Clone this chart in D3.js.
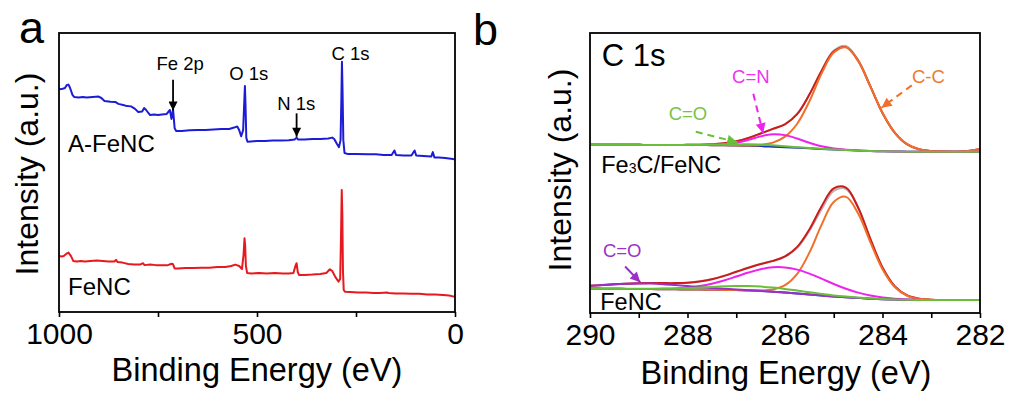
<!DOCTYPE html>
<html>
<head>
<meta charset="utf-8">
<script src="https://cdn.jsdelivr.net/npm/d3@7"></script>
<style>
  html, body { margin: 0; padding: 0; background: #fff; }
  svg { display: block; font-family: "Liberation Sans", Arial, sans-serif; }
</style>
</head>
<body>
<svg id="chart" width="1011" height="394"></svg>
<script>
// ---------- (a) XPS survey spectra ----------
const afencEnergy = [1000,993,985,980,976,972,966,962,950,940,930,915,900,893,885,870,858,850,838,828,818,808,800,790,785,780,770,760,750,740,728,720,716,712,708,704,690,670,650,630,610,590,570,558,550,545,540,535,532,530.5,529,527,524,515,500,480,460,440,420,405,400,396,380,360,340,320,310,305,298,293,289,287,285.5,284,282,279,270,250,220,200,180,160,153,149,130,110,102,98,80,60,56,52,40,25,15,5,0];
const afencIntensity = [79.8,79.9,80.3,81.4,81.5,80.3,77.8,77.1,76.9,77.1,76.9,77.1,77.2,76.7,75.6,75.4,75.3,74.6,74.2,73.8,73.7,72.8,71.7,71.9,73.1,72.4,70.6,70.8,70.6,70.8,71.0,72.4,69.2,72.6,65.9,64.9,64.9,65.1,65.2,65.2,65.4,65.6,65.6,66.1,66.5,65.2,63.0,65.2,76.0,81.0,74.2,62.4,61.0,61.1,61.3,61.3,61.5,61.5,61.6,61.8,62.5,61.8,61.8,62.0,62.0,62.2,62.5,62.0,60.2,59.1,61.6,76.0,89.7,79.6,61.6,57.0,56.6,56.6,56.5,56.5,56.3,56.3,57.9,56.3,56.1,56.1,57.9,56.1,55.9,55.7,57.3,55.4,55.4,55.2,55.0,54.8,54.7];

const fencEnergy = [1000,994,988,982,976,970,964,955,945,935,920,905,890,875,860,856,852,840,825,810,795,788,784,770,755,740,725,716,712,708,700,680,660,640,620,600,580,565,555,545,538,534,531.5,530,528,525,515,495,475,455,435,420,408,403,400,397,394,380,360,340,325,316,310,302,294,290,288,286,284.5,283,281,278,265,245,225,205,190,172,168,150,130,110,90,70,50,30,15,5,0];
const fencIntensity = [20.1,19.9,20.1,20.8,21.3,20.1,18.3,18.1,18.3,18.1,18.3,18.5,18.3,18.1,18.1,18.7,17.9,17.7,17.2,17.0,17.0,17.5,16.8,17.0,16.8,16.8,16.8,17.3,17.1,15.6,15.6,15.8,15.8,15.9,15.9,16.1,16.1,16.5,17.0,16.5,15.4,20.4,26.4,24.0,16.5,14.0,13.8,14.0,13.8,14.0,13.8,13.8,14.0,16.5,17.5,14.3,13.3,13.3,13.4,13.6,14.0,15.3,14.7,12.5,10.9,11.8,25.8,43.7,34.8,15.1,7.9,7.3,7.2,7.0,7.0,6.8,6.8,7.0,6.8,6.6,6.6,6.5,6.5,6.3,6.3,6.1,5.9,5.6,5.4];

const surveyTicks = [1000, 750, 500, 250, 0];
const surveyTickLabels = ["1000", "", "500", "", "0"];

// peak labels: [text, energy, intensity of baseline]
const surveyPeakLabels = [["Fe 2p", 694, 86.7], ["O 1s", 521, 83.2], ["N 1s", 401, 72.4], ["C 1s", 264, 90.3]];
// arrows: [energy, start intensity, tip intensity]
const surveyArrows = [[712, 83.2, 72.2], [400, 71.2, 62.8]];

// ---------- (b) high-resolution C 1s ----------
const c1sEnergy = [290,289.75,289.5,289.25,289,288.75,288.5,288.25,288,287.75,287.5,287.25,287,286.75,286.5,286.25,286,285.75,285.5,285.25,285,284.75,284.5,284.25,284,283.75,283.5,283.25,283,282.75,282.5,282.25,282];

// Fe3C/FeNC
const topRaw        = [60.15,60.05,60.12,60.02,60.08,59.98,60.04,59.97,60.06,60.12,60.3,60.6,61.3,62.5,64.1,65.7,67.5,71.2,78.0,86.6,93.7,95.4,90.4,81.1,71.4,64.4,60.3,58.5,57.8,57.7,57.6,57.9,58.6];
const topEnvelope   = [60.1,60.1,60.1,60.05,60.05,60.0,60.0,60.0,60.05,60.1,60.27,60.62,61.33,62.52,64.10,65.76,67.4,71.0,78.0,86.47,93.34,94.95,90.07,80.95,71.45,64.45,60.33,58.51,57.85,57.66,57.6,57.9,58.6];
const topCC         = [60.1,60.1,60.1,60.05,60.05,60.0,60.0,60.0,60.0,60.0,59.95,59.9,59.82,59.8,60.03,60.85,63.0,67.6,75.6,85.5,93.0,94.86,90.05,80.95,71.45,64.45,60.33,58.51,57.85,57.66,57.6,57.9,58.6];
const topCN         = [60.1,60.1,60.1,60.05,60.05,60.0,60.0,60.0,60.0,60.0,60.07,60.29,60.83,61.84,63.08,63.8,63.53,62.32,60.79,59.52,58.74,58.29,58.02,57.85,57.75,57.7,57.6,57.6,57.6,57.6,57.6,57.6,57.6];
const topCO         = [60.1,60.1,60.1,60.05,60.05,60.0,60.0,60.0,60.05,60.1,60.15,60.23,60.28,60.28,60.19,59.91,59.56,59.22,58.91,58.65,58.4,58.2,58.0,57.85,57.75,57.7,57.6,57.6,57.6,57.6,57.6,57.6,57.6];
const topBackground = [60.1,60.1,60.1,60.05,60.05,60.0,60.0,60.0,60.0,60.0,59.95,59.9,59.8,59.7,59.6,59.4,59.2,59.0,58.8,58.6,58.4,58.2,58.0,57.85,57.75,57.7,57.6,57.6,57.6,57.6,57.6,57.6,57.6];

// FeNC
const botRaw        = [9.72,9.95,10.28,10.47,10.66,10.7,10.66,10.69,10.83,11.3,12.06,13.27,14.7,16.15,17.45,18.6,20.1,23.3,29.3,37.0,43.6,44.3,37.7,26.6,16.3,9.62,6.33,5.12,4.75,4.64,4.65,4.63,4.64];
const botEnvelope   = [9.70,9.98,10.26,10.49,10.65,10.69,10.68,10.68,10.84,11.28,12.08,13.26,14.71,16.17,17.47,18.61,20.22,23.60,29.85,38.07,44.52,44.77,37.63,26.51,16.26,9.60,6.34,5.11,4.74,4.64,4.64,4.64,4.64];
const botCC         = [8.75,8.7,8.66,8.61,8.57,8.53,8.49,8.44,8.4,8.35,8.3,8.25,8.2,8.08,8.04,8.38,9.92,13.98,21.55,31.47,39.66,41.48,35.57,25.33,15.64,9.31,6.21,5.06,4.72,4.64,4.64,4.64,4.64];
const botCN         = [8.75,8.7,8.66,8.61,8.60,8.60,8.65,8.79,9.09,9.63,10.46,11.62,13.03,14.44,15.64,16.32,16.29,15.50,14.08,12.27,10.37,8.67,7.28,6.24,5.52,5.09,4.84,4.71,4.66,4.64,4.64,4.64,4.64];
const botCO         = [9.70,9.98,10.26,10.46,10.56,10.50,10.30,9.98,9.61,9.23,8.90,8.62,8.42,8.17,7.92,7.62,7.3,6.95,6.6,6.25,5.9,5.62,5.36,5.13,4.93,4.8,4.71,4.66,4.64,4.64,4.64,4.64,4.64];
const botCOH        = [8.75,8.70,8.66,8.64,8.63,8.65,8.71,8.79,8.94,9.12,9.32,9.52,9.66,9.63,9.45,9.09,8.61,8.02,7.42,6.83,6.29,5.86,5.50,5.20,4.96,4.8,4.71,4.66,4.64,4.64,4.64,4.64,4.64];
const botBackground = [8.75,8.7,8.66,8.61,8.57,8.53,8.49,8.44,8.4,8.35,8.3,8.25,8.2,8.05,7.86,7.6,7.3,6.95,6.6,6.25,5.9,5.62,5.36,5.13,4.93,4.8,4.71,4.66,4.64,4.64,4.64,4.64,4.64];

const c1sTicks = [290, 289, 288, 287, 286, 285, 284, 283, 282];
const c1sTickLabels = ["290", "", "288", "", "286", "", "284", "", "282"];

// ---------- drawing ----------
const svg = d3.select("#chart");
const FONT = '"Liberation Sans", Arial, sans-serif';

const xa = d3.scaleLinear().domain([1000, 0]).range([59, 455]);
const ya = d3.scaleLinear().domain([0, 100]).range([312, 33]);
const xb = d3.scaleLinear().domain([290, 282]).range([590, 980]);
const yb = d3.scaleLinear().domain([0, 100]).range([313, 33]);

const defs = svg.append("defs");
function marker(id, color, w, h) {
  defs.append("marker")
    .attr("id", id).attr("viewBox", "0 0 10 10")
    .attr("refX", 10).attr("refY", 5)
    .attr("markerWidth", w).attr("markerHeight", h)
    .attr("markerUnits", "userSpaceOnUse")
    .attr("orient", "auto")
    .append("path").attr("d", "M0,0 L10,5 L0,10 Z").attr("fill", color);
}
marker("arrBlack", "#000", 11, 9);
marker("arrGreen", "#6abf3a", 12, 10);
marker("arrMagenta", "#ee22ee", 12, 10);
marker("arrOrange", "#f0702a", 12, 10);
marker("arrPurple", "#9b30c8", 12, 10);

function frame(x, y) {
  svg.append("rect")
    .attr("x", x.range()[0]).attr("y", y.range()[1])
    .attr("width", x.range()[1] - x.range()[0])
    .attr("height", y.range()[0] - y.range()[1])
    .attr("fill", "none").attr("stroke", "#000").attr("stroke-width", 1.8);
}

function bottomAxis(x, y, ticks, labels) {
  const g = svg.append("g")
    .attr("transform", `translate(0,${y.range()[0]})`)
    .call(d3.axisBottom(x).tickValues(ticks)
      .tickFormat((d, i) => labels[i]).tickSize(5).tickSizeOuter(0).tickPadding(6));
  g.select(".domain").remove();
  g.selectAll(".tick line").attr("stroke", "#000").attr("stroke-width", 1.6);
  g.selectAll(".tick text").attr("font-family", FONT).attr("font-size", 30).attr("fill", "#000");
}

function label(txt, x, y, size, color, anchor, rot) {
  const t = svg.append("text")
    .attr("font-family", FONT).attr("font-size", size)
    .attr("fill", color).attr("text-anchor", anchor || "start");
  if (rot) t.attr("transform", `translate(${x},${y}) rotate(${rot})`);
  else t.attr("x", x).attr("y", y);
  t.text(txt);
  return t;
}

// panel a
const lineA = d3.line().x(d => xa(d[0])).y(d => ya(d[1]));
svg.append("path").datum(d3.zip(fencEnergy, fencIntensity))
  .attr("d", lineA).attr("fill", "none").attr("stroke", "#e8191e").attr("stroke-width", 2).attr("stroke-linejoin", "round");
svg.append("path").datum(d3.zip(afencEnergy, afencIntensity))
  .attr("d", lineA).attr("fill", "none").attr("stroke", "#1c1cd6").attr("stroke-width", 2).attr("stroke-linejoin", "round");

frame(xa, ya);
bottomAxis(xa, ya, surveyTicks, surveyTickLabels);

surveyPeakLabels.forEach(p => label(p[0], xa(p[1]), ya(p[2]), 18.5, "#000", "middle"));
surveyArrows.forEach(a => {
  svg.append("line")
    .attr("x1", xa(a[0])).attr("x2", xa(a[0]))
    .attr("y1", ya(a[1])).attr("y2", ya(a[2]))
    .attr("stroke", "#000").attr("stroke-width", 1.8)
    .attr("marker-end", "url(#arrBlack)");
});
label("A-FeNC", xa(977), ya(57.5), 24, "#000");
label("FeNC", xa(977), ya(6.1), 24, "#000");
label("Binding Energy (eV)", 257, 381, 32.5, "#000", "middle");
label("Intensity (a.u.)", 38, 174, 32, "#000", "middle", -90);
label("a", 19, 43, 45, "#000");

// panel b
const lineB = d3.line().x(d => xb(d[0])).y(d => yb(d[1])).curve(d3.curveCatmullRom.alpha(0.5));
const c1sSeries = [
  [topBackground, "#2233bb"], [topRaw, "#b5b5b5"], [topEnvelope, "#cc1b1b"], [topCC, "#f0702a"], [topCN, "#ee22ee"], [topCO, "#6abf3a"],
  [botBackground, "#2233bb"], [botRaw, "#b5b5b5"], [botEnvelope, "#cc1b1b"], [botCC, "#f0702a"], [botCN, "#ee22ee"], [botCO, "#9b30c8"], [botCOH, "#6abf3a"]
];
c1sSeries.forEach(s => {
  svg.append("path").datum(d3.zip(c1sEnergy, s[0]))
    .attr("d", lineB).attr("fill", "none").attr("stroke", s[1]).attr("stroke-width", 2);
});

frame(xb, yb);
bottomAxis(xb, yb, c1sTicks, c1sTickLabels);

// component annotations: [text, color, marker, label E, label I, from E, from I, tip E, tip I, dashed]
const c1sNotes = [
  ["C=O", "#7cc242", "arrGreen", 287.99, 68.9, 287.83, 64.7, 286.98, 61.0, true],
  ["C=N", "#ee33ee", "arrMagenta", 286.70, 82.0, 286.65, 78.3, 286.45, 64.2, true],
  ["C-C", "#ee7a30", "arrOrange", 283.06, 82.0, 283.40, 81.3, 284.02, 73.3, true],
  ["C=O", "#9933cc", "arrPurple", 289.34, 19.9, 289.28, 16.6, 288.97, 11.0, false]
];
const strokeOf = { arrGreen: "#6abf3a", arrMagenta: "#ee22ee", arrOrange: "#f0702a", arrPurple: "#9b30c8" };
c1sNotes.forEach(n => {
  label(n[0], xb(n[3]), yb(n[4]), 18.5, n[1], "middle");
  svg.append("line")
    .attr("x1", xb(n[5])).attr("y1", yb(n[6]))
    .attr("x2", xb(n[7])).attr("y2", yb(n[8]))
    .attr("stroke", strokeOf[n[2]]).attr("stroke-width", 2)
    .attr("stroke-dasharray", n[9] ? "7,5" : null)
    .attr("marker-end", `url(#${n[2]})`);
});

label("C 1s", xb(289.76), yb(88.3), 31, "#000");
const fe3c = svg.append("text").attr("x", xb(289.77)).attr("y", yb(49.9))
  .attr("font-family", FONT).attr("font-size", 23.5).attr("fill", "#000");
fe3c.append("tspan").text("Fe");
fe3c.append("tspan").attr("font-size", 14).text("3");
fe3c.append("tspan").text("C/FeNC");
label("FeNC", xb(289.79), yb(1.1), 23.5, "#000");
label("Binding Energy (eV)", 786, 384, 32.5, "#000", "middle");
label("Intensity (a.u.)", 571, 170, 32, "#000", "middle", -90);
label("b", 473, 45, 45, "#000");
</script>
</body>
</html>
